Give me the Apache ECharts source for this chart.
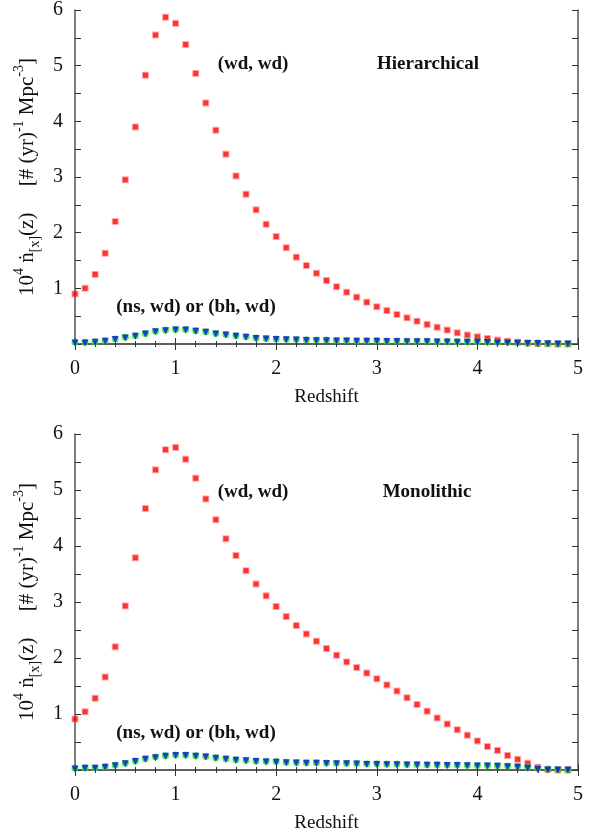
<!DOCTYPE html>
<html>
<head>
<meta charset="utf-8">
<script src="https://cdn.jsdelivr.net/npm/echarts@6/dist/echarts.min.js"></script>
<style>
  html, body { margin: 0; padding: 0; background: #fff; }
  #chart { width: 592px; height: 837px; }
</style>
</head>
<body>
<div id="chart"></div>
<script>
// redshift grid
const zs = [0, 0.1, 0.2, 0.3, 0.4, 0.5, 0.6, 0.7, 0.8, 0.9,
  1.0, 1.1, 1.2, 1.3, 1.4, 1.5, 1.6, 1.7, 1.8, 1.9,
  2.0, 2.1, 2.2, 2.3, 2.4, 2.5, 2.6, 2.7, 2.8, 2.9,
  3.0, 3.1, 3.2, 3.3, 3.4, 3.5, 3.6, 3.7, 3.8, 3.9,
  4.0, 4.1, 4.2, 4.3, 4.4, 4.5, 4.6, 4.7, 4.8, 4.9]

// Hierarchical
const hierWdWd = [0.9, 1.0, 1.25, 1.63, 2.2, 2.95, 3.9, 4.83, 5.55, 5.87,
  5.76, 5.38, 4.86, 4.33, 3.84, 3.41, 3.02, 2.69, 2.41, 2.15,
  1.93, 1.73, 1.56, 1.41, 1.27, 1.14, 1.03, 0.93, 0.84, 0.75,
  0.67, 0.6, 0.53, 0.47, 0.41, 0.35, 0.3, 0.25, 0.2, 0.16,
  0.13, 0.1, 0.07, 0.05, 0.03, 0.02, 0.01, 0.005, 0, 0]
const hierNsWd = [0.03, 0.03, 0.04, 0.06, 0.09, 0.12, 0.15, 0.19, 0.23, 0.25,
  0.26, 0.26, 0.24, 0.22, 0.19, 0.17, 0.15, 0.13, 0.11, 0.1,
  0.09, 0.085, 0.08, 0.075, 0.07, 0.07, 0.065, 0.065, 0.06, 0.06,
  0.06, 0.055, 0.055, 0.05, 0.05, 0.05, 0.045, 0.045, 0.04, 0.04,
  0.04, 0.035, 0.03, 0.03, 0.025, 0.02, 0.02, 0.01, 0.005, 0.005]
const hierBhWd = [0.02, 0.02, 0.03, 0.05, 0.08, 0.11, 0.14, 0.18, 0.22, 0.24,
  0.25, 0.25, 0.23, 0.21, 0.18, 0.16, 0.14, 0.12, 0.1, 0.09,
  0.08, 0.075, 0.07, 0.065, 0.06, 0.06, 0.055, 0.055, 0.05, 0.05,
  0.05, 0.045, 0.045, 0.04, 0.04, 0.04, 0.035, 0.035, 0.03, 0.03,
  0.03, 0.025, 0.02, 0.02, 0.015, 0.01, 0.01, 0.005, 0, 0]

// Monolithic
const monoWdWd = [0.91, 1.04, 1.28, 1.66, 2.2, 2.93, 3.79, 4.67, 5.36, 5.72,
  5.76, 5.55, 5.21, 4.84, 4.47, 4.13, 3.83, 3.56, 3.32, 3.11,
  2.92, 2.74, 2.58, 2.43, 2.3, 2.17, 2.05, 1.93, 1.83, 1.73,
  1.63, 1.52, 1.41, 1.29, 1.17, 1.05, 0.93, 0.82, 0.72, 0.62,
  0.52, 0.42, 0.35, 0.26, 0.19, 0.12, 0.05, 0.01, 0, 0]
const monoNsWd = [0.03, 0.04, 0.04, 0.06, 0.085, 0.12, 0.16, 0.2, 0.23, 0.255,
  0.27, 0.27, 0.255, 0.24, 0.22, 0.2, 0.185, 0.175, 0.16, 0.155,
  0.15, 0.14, 0.135, 0.13, 0.13, 0.125, 0.12, 0.12, 0.115, 0.11,
  0.11, 0.105, 0.105, 0.1, 0.1, 0.095, 0.095, 0.09, 0.09, 0.085,
  0.08, 0.08, 0.075, 0.07, 0.065, 0.05, 0.03, 0.02, 0.01, 0.005]
const monoBhWd = [0.02, 0.03, 0.03, 0.05, 0.075, 0.11, 0.15, 0.19, 0.22, 0.245,
  0.26, 0.26, 0.245, 0.23, 0.21, 0.19, 0.175, 0.165, 0.15, 0.145,
  0.14, 0.13, 0.125, 0.12, 0.12, 0.115, 0.11, 0.11, 0.105, 0.1,
  0.1, 0.095, 0.095, 0.09, 0.09, 0.085, 0.085, 0.08, 0.08, 0.075,
  0.07, 0.07, 0.065, 0.06, 0.05, 0.03, 0.01, 0, 0, 0]

const xTicks = [0, 1, 2, 3, 4, 5]
const yTicks = [1, 2, 3, 4, 5, 6]

const serif = 'Liberation Serif'
const axisColor = '#555'

function pairs(ys) {
  return zs.map((z, i) => [z, ys[i]])
}

function xAxes(gi) {
  const base = {
    gridIndex: gi,
    type: 'value',
    min: 0,
    max: 5,
    interval: 1,
    axisLine: { show: true, lineStyle: { color: axisColor, width: 1.5 } },
    axisTick: { show: true, inside: true, length: 6, lineStyle: { color: '#333' } },
    minorTick: { show: true, splitNumber: 5, length: 3, lineStyle: { color: '#333' } },
    splitLine: { show: false }
  }
  return [
    Object.assign({}, base, {
      position: 'bottom',
      name: 'Redshift',
      nameLocation: 'middle',
      nameGap: 44,
      nameTextStyle: { fontFamily: serif, fontSize: 19, color: '#111' },
      axisLabel: {
        margin: 15,
        fontFamily: serif,
        fontSize: 20,
        color: '#111',
        formatter: v => (xTicks.indexOf(v) >= 0 ? String(v) : '')
      }
    }),
    Object.assign({}, base, { position: 'top', axisLabel: { show: false } })
  ]
}

function yAxes(gi) {
  const base = {
    gridIndex: gi,
    type: 'value',
    min: 0,
    max: 6,
    interval: 1,
    axisLine: { show: true, onZero: false, lineStyle: { color: axisColor, width: 1.5 } },
    axisTick: { show: true, inside: true, length: 6, lineStyle: { color: '#333' } },
    minorTick: { show: true, splitNumber: 2, length: 6, lineStyle: { color: '#333' } },
    splitLine: { show: false }
  }
  return [
    Object.assign({}, base, {
      position: 'left',
      name: '{n|10}{sup|4}{n| ṅ}{sub|[x]}{n|(z)     [# (yr)}{sup|-1}{n| Mpc}{sup|-3}{n|]}',
      nameLocation: 'middle',
      nameRotate: 90,
      nameGap: 31,
      nameTextStyle: {
        rich: {
          n: { fontFamily: serif, fontSize: 21, color: '#111', lineHeight: 30, verticalAlign: 'middle' },
          sup: { fontFamily: serif, fontSize: 14, color: '#111', lineHeight: 30, verticalAlign: 'top' },
          sub: { fontFamily: serif, fontSize: 14, color: '#111', lineHeight: 30, verticalAlign: 'bottom' }
        }
      },
      axisLabel: {
        margin: 12,
        fontFamily: serif,
        fontSize: 20,
        color: '#111',
        formatter: v => (yTicks.indexOf(v) >= 0 ? String(v) : '')
      }
    }),
    Object.assign({}, base, { position: 'right', axisLabel: { show: false } })
  ]
}

function panelSeries(gi, wd, ns, bh) {
  return [
    {
      name: '(wd, wd)',
      type: 'scatter',
      xAxisIndex: gi * 2,
      yAxisIndex: gi * 2,
      symbol: 'rect',
      symbolSize: 5,
      itemStyle: { color: '#ff0000', borderColor: 'rgba(255,40,40,0.5)', borderWidth: 2 },
      data: pairs(wd)
    },
    {
      name: '(ns, wd)',
      type: 'scatter',
      xAxisIndex: gi * 2,
      yAxisIndex: gi * 2,
      symbol: 'circle',
      symbolSize: 7,
      itemStyle: { color: '#1ee81e' },
      data: pairs(ns)
    },
    {
      name: '(bh, wd)',
      type: 'scatter',
      xAxisIndex: gi * 2,
      yAxisIndex: gi * 2,
      symbol: 'triangle',
      symbolRotate: 180,
      symbolSize: 7,
      itemStyle: { color: '#0a14e6' },
      data: pairs(bh)
    }
  ]
}

const boldText = { fontFamily: serif, fontSize: 19, fontWeight: 'bold', fill: '#111' }

function label(x, y, text) {
  return {
    type: 'text',
    x: x,
    y: y,
    style: Object.assign({ text: text, textAlign: 'center', textVerticalAlign: 'middle' }, boldText)
  }
}

const chart = echarts.init(document.getElementById('chart'), null, { renderer: 'canvas' })
chart.setOption({
  backgroundColor: '#fff',
  animation: false,
  grid: [
    { left: 75, top: 7, width: 503, height: 337 },
    { left: 75, top: 434, width: 503, height: 336 }
  ],
  xAxis: xAxes(0).concat(xAxes(1)),
  yAxis: yAxes(0).concat(yAxes(1)),
  series: panelSeries(0, hierWdWd, hierNsWd, hierBhWd)
    .concat(panelSeries(1, monoWdWd, monoNsWd, monoBhWd)),
  graphic: [
    label(253, 64, '(wd, wd)'),
    label(428, 64, 'Hierarchical'),
    label(196, 307, '(ns, wd) or (bh, wd)'),
    label(253, 492, '(wd, wd)'),
    label(427, 492, 'Monolithic'),
    label(196, 733, '(ns, wd) or (bh, wd)')
  ]
})
</script>
</body>
</html>
